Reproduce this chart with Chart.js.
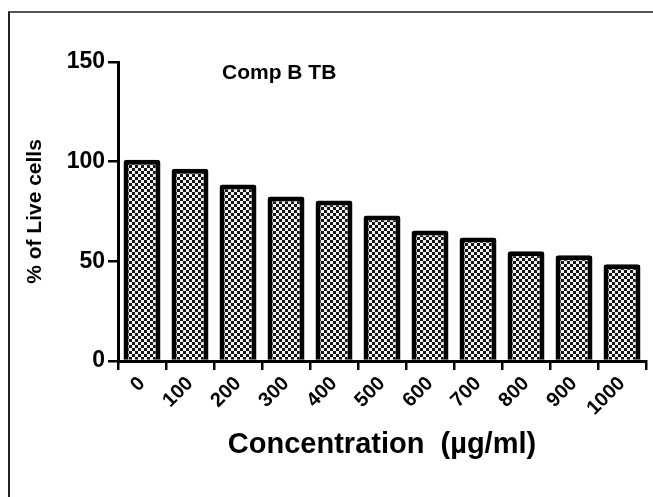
<!DOCTYPE html>
<html>
<head>
<meta charset="utf-8">
<script src="https://cdn.jsdelivr.net/npm/chart.js@4"></script>
<style>
  html, body { margin: 0; padding: 0; background: #fff; overflow: hidden; }
  #wrap { position: relative; width: 653px; height: 497px; }
  #frame { position: absolute; left: 8px; top: 11px; right: -10px; bottom: -10px;
           border-top: 2px solid #555; border-left: 2px solid #222; }
  #chart { position: absolute; left: 0; top: 0; }
</style>
</head>
<body>
<div id="wrap">
  <div id="frame"></div>
  <canvas id="chart" width="653" height="497"></canvas>
</div>
<script>
const concentrations = ["0", "100", "200", "300", "400", "500", "600", "700", "800", "900", "1000"];
const liveCells = [101, 96.5, 88.5, 82.5, 80.5, 73, 65.5, 62, 55, 53, 48.5];
const yTicks = [0, 50, 100, 150];
const chartTitle = "Comp B TB";
const xTitle = "Concentration  (\u00b5g/ml)";
const yTitle = "% of Live cells";

// checkerboard fill like the Prism hatch
function makePattern() {
  const c = document.createElement("canvas");
  c.width = 6; c.height = 6;
  const g = c.getContext("2d");
  g.fillStyle = "#f2f2f2";
  g.fillRect(0, 0, 6, 6);
  g.fillStyle = "#151515";
  g.fillRect(0, 0, 3, 3);
  g.fillRect(3, 3, 3, 3);
  return g.createPattern(c, "repeat");
}

const font = "'Liberation Sans', Arial, sans-serif";

const innerTitle = {
  id: "innerTitle",
  afterDraw(chart) {
    const ctx = chart.ctx;
    const a = chart.chartArea;
    ctx.save();
    ctx.font = "bold 21px " + font;
    ctx.fillStyle = "#000";
    ctx.textBaseline = "middle";
    ctx.textAlign = "left";
    ctx.fillText(chartTitle, a.left + 104, a.top + 11);
    ctx.restore();
  }
};

new Chart(document.getElementById("chart"), {
  type: "bar",
  data: {
    labels: concentrations,
    datasets: [{
      data: liveCells,
      backgroundColor: makePattern(),
      borderColor: "#000",
      borderWidth: 5,
      borderRadius: 3,
      borderSkipped: "bottom",
      categoryPercentage: 1,
      barPercentage: 0.77
    }]
  },
  options: {
    responsive: false,
    animation: false,
    layout: { padding: { top: 62, right: 7, left: 0, bottom: 0 } },
    plugins: { legend: { display: false }, tooltip: { enabled: false } },
    scales: {
      x: {
        grid: { drawOnChartArea: false, drawTicks: true, tickLength: 9, color: "#000", lineWidth: 2.5 },
        border: { color: "#000", width: 3 },
        ticks: {
          color: "#000", font: { family: font, size: 20, weight: "bold" },
          minRotation: 45, maxRotation: 45, padding: 2
        },
        title: {
          display: true, text: xTitle, color: "#000",
          font: { family: font, size: 29, weight: "bold" },
          padding: { top: 0, bottom: 35 }
        },
        afterFit(scale) { scale.height = 136; }
      },
      y: {
        min: 0, max: 150,
        afterBuildTicks(scale) { scale.ticks = yTicks.map(v => ({ value: v })); },
        grid: { drawOnChartArea: false, drawTicks: true, tickLength: 10, color: "#000", lineWidth: 2.5 },
        border: { color: "#000", width: 3 },
        ticks: { color: "#000", font: { family: font, size: 23, weight: "bold" }, padding: 3 },
        title: {
          display: true, text: yTitle, color: "#000",
          font: { family: font, size: 21, weight: "bold" },
          padding: { top: 23, bottom: 0 }
        },
        afterFit(scale) { scale.width = 118; }
      }
    }
  },
  plugins: [innerTitle]
});
</script>
</body>
</html>
